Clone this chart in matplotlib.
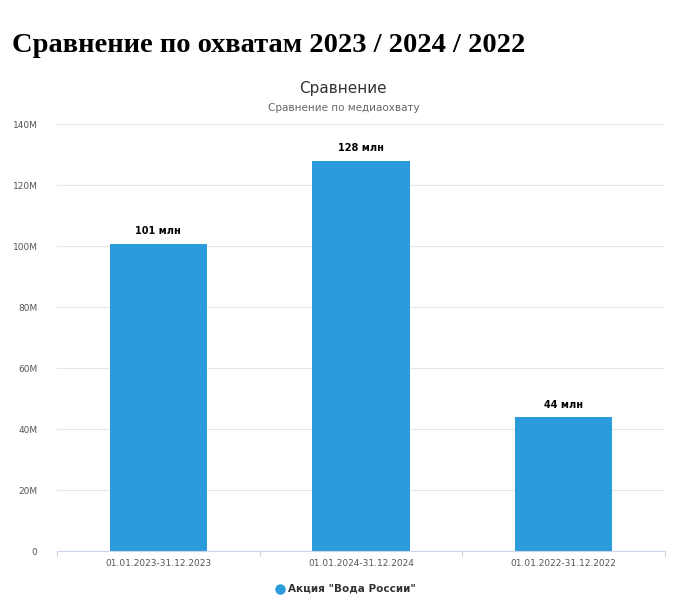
import matplotlib
matplotlib.use("Agg")
import matplotlib.pyplot as plt
import matplotlib.ticker as mticker

periods = ["01.01.2023-31.12.2023", "01.01.2024-31.12.2024", "01.01.2022-31.12.2022"]
reach_mln = [100.7, 128.0, 43.8]
labels = ["101 млн", "128 млн", "44 млн"]
series_name = 'Акция "Вода России"'
BLUE = "#2c9bdc"

plt.rcParams["font.family"] = ["DejaVu Sans"]
fig = plt.figure(figsize=(6.8, 6.04), dpi=100)
ax = fig.add_axes([0.0838, 0.0877, 0.894, 0.707])

x = range(len(periods))
ax.bar(x, reach_mln, width=0.48, color=BLUE, zorder=2)
for i, (v, t) in enumerate(zip(reach_mln, labels)):
    ax.text(i, v + 2.5, t, ha="center", va="bottom", fontsize=7, fontweight="bold")

ax.set_xlim(-0.5, 2.5)
ax.set_ylim(0, 140)
ax.set_yticks(range(0, 141, 20))
ax.yaxis.set_major_formatter(mticker.FuncFormatter(lambda v, _: "0" if v == 0 else f"{v:.0f}M"))
ax.set_xticks(list(x))
ax.set_xticklabels(periods)
ax.tick_params(axis="x", labelsize=6.5, colors="#555555", length=0, pad=6)
ax.tick_params(axis="y", labelsize=6.5, colors="#555555", length=0, pad=14)
ax.grid(axis="y", color="#e6e6e6", linewidth=0.8, zorder=0)
for s in ["top", "right", "left"]:
    ax.spines[s].set_visible(False)
ax.spines["bottom"].set_color("#ccd6eb")
for b in [-0.5, 0.5, 1.5, 2.5]:
    ax.plot([b, b], [0, -1.6], color="#ccd6eb", lw=0.8, clip_on=False)

fig.text(0.018, 0.925, "Сравнение по охватам 2023 / 2024 / 2022",
         family="Liberation Serif", fontweight="bold", fontsize=20.5, va="center")
fig.text(0.505, 0.853, "Сравнение", ha="center", va="center", fontsize=11, color="#333333")
fig.text(0.505, 0.822, "Сравнение по медиаохвату", ha="center", va="center", fontsize=7.5, color="#666666")

fig.lines.append(matplotlib.lines.Line2D([0.412], [0.025], marker="o", markersize=6.5,
                                         color=BLUE, transform=fig.transFigure))
fig.text(0.424, 0.025, series_name, va="center", fontsize=7.5, fontweight="bold", color="#333333")

fig.savefig("out.png", dpi=100)
